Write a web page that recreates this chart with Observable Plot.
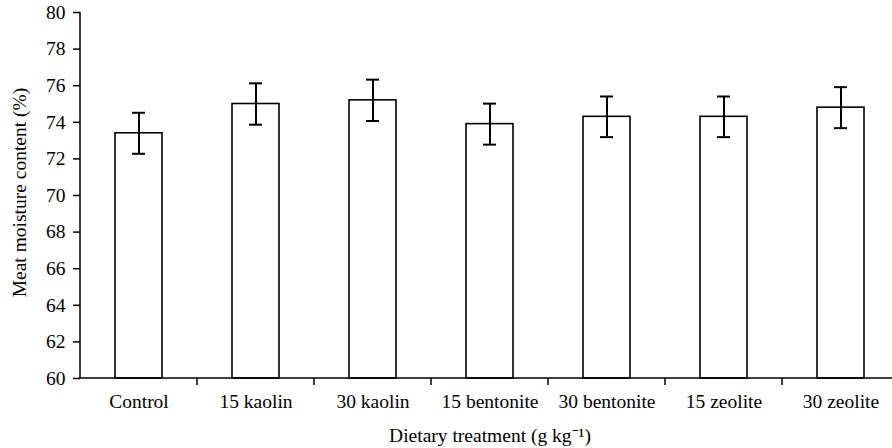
<!DOCTYPE html>
<html>
<head>
<meta charset="utf-8">
<script src="https://cdn.jsdelivr.net/npm/d3@7"></script>
<script src="https://cdn.jsdelivr.net/npm/@observablehq/plot@0.6"></script>
<style>
  html, body { margin: 0; padding: 0; background: #fff; overflow: hidden; }
  svg { font-family: "Liberation Serif", "Times New Roman", serif; }
</style>
</head>
<body>
<div id="chart"></div>
<script>
const categories = ["Control", "15 kaolin", "30 kaolin", "15 bentonite", "30 bentonite", "15 zeolite", "30 zeolite"];
const moisture = [73.4, 75.0, 75.2, 73.9, 74.3, 74.3, 74.8];
const errors = [1.12, 1.13, 1.13, 1.12, 1.11, 1.11, 1.12];
const yTicks = [60, 62, 64, 66, 68, 70, 72, 74, 76, 78, 80];
const xLabel = "Dietary treatment (g kg\u207B\u00B9)";
const yLabel = "Meat moisture content (%)";

const data = categories.map((c, i) => ({cat: c, v: moisture[i], lo: moisture[i] - errors[i], hi: moisture[i] + errors[i]}));

// axis lines and between-band ticks, from the scales
const axisLines = (index, scales, values, dim) => {
  const g = d3.create("svg:g").attr("stroke", "black").attr("stroke-width", 1.5);
  const y0 = scales.y(60), y1 = scales.y(80);
  const xl = dim.marginLeft;
  g.append("line").attr("x1", xl).attr("x2", xl).attr("y1", y0).attr("y2", y1);
  g.append("line").attr("x1", xl).attr("x2", dim.width - dim.marginRight).attr("y1", y0).attr("y2", y0);
  const bw = scales.x.bandwidth();
  for (let i = 0; i < categories.length - 1; i++) {
    const xb = (scales.x(categories[i]) + scales.x(categories[i + 1]) + bw) / 2;
    g.append("line").attr("x1", xb).attr("x2", xb).attr("y1", y0).attr("y2", y0 + 7);
  }
  return g.node();
};

const FS = 19.5;
const plot = Plot.plot({
  width: 892,
  height: 448,
  marginLeft: 80,
  marginRight: -7,
  marginTop: 12,
  marginBottom: 70,
  style: {fontFamily: "Liberation Serif, Times New Roman, serif", fontSize: FS + "px", color: "black", background: "white"},
  x: {domain: categories, paddingInner: 0.6, paddingOuter: 0.3, label: null},
  y: {domain: [60, 80], label: null},
  marks: [
    Plot.barY(data, {x: "cat", y1: 60, y2: "v", fill: "white", stroke: "black", strokeWidth: 1.6}),
    Plot.ruleX(data, {x: "cat", y1: "lo", y2: "hi", stroke: "black", strokeWidth: 2}),
    Plot.tickY(data, {x: "cat", y: "hi", stroke: "black", strokeWidth: 2, insetLeft: 17, insetRight: 17}),
    Plot.tickY(data, {x: "cat", y: "lo", stroke: "black", strokeWidth: 2, insetLeft: 17, insetRight: 17}),
    Plot.axisY({ticks: yTicks, tickSize: 7, tickPadding: 8, fontSize: FS, stroke: "black", strokeWidth: 1.5, label: null}),
    Plot.axisX({tickSize: 0, tickPadding: 16, fontSize: FS, label: null}),
    axisLines,
    Plot.text([xLabel], {frameAnchor: "bottom", dy: 57, text: d => d, fontSize: FS, textAnchor: "middle", lineAnchor: "middle", fill: "black"}),
    Plot.text([yLabel], {frameAnchor: "left", dx: -61, dy: -3, rotate: -90, text: d => d, fontSize: FS, textAnchor: "middle", lineAnchor: "middle", fill: "black"})
  ]
});
document.getElementById("chart").appendChild(plot);
</script>
</body>
</html>
